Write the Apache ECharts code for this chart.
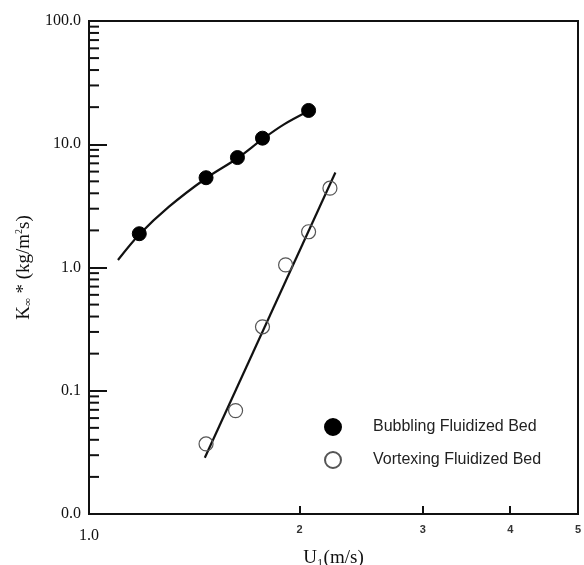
<!DOCTYPE html>
<html>
<head>
<meta charset="utf-8">
<script src="https://cdn.jsdelivr.net/npm/echarts@6/dist/echarts.min.js"></script>
<style>
  html, body { margin: 0; padding: 0; background: #fff; }
  #chart { width: 584px; height: 565px; }
</style>
</head>
<body>
<div id="chart"></div>
<script>
const bubbling = [[1.18, 1.88], [1.47, 5.35], [1.63, 7.8], [1.77, 11.2], [2.06, 18.8]];
const vortexing = [[1.47, 0.037], [1.62, 0.069], [1.77, 0.33], [1.91, 1.05], [2.06, 1.95], [2.21, 4.4]];
// fitted curves
const bubblingFit = [[1.10, 1.15], [1.18, 1.85], [1.30, 3.1], [1.47, 5.3], [1.63, 7.7], [1.77, 11.0], [1.90, 14.5], [2.06, 18.6]];
const vortexingFit = [[1.464, 0.0286], [2.25, 5.9]];
// axis ticks
const xLabels = [1, 2, 3, 4, 5];
const xTicks = [2, 3, 4];
const decades = [0.01, 0.1, 1, 10];
const minorSteps = [2, 3, 4, 5, 6, 7, 8, 9];
const minorTicks = [];
decades.forEach(d => minorSteps.forEach(m => minorTicks.push([1, +(d * m).toPrecision(3)])));

const chart = echarts.init(document.getElementById('chart'));
const serif = 'Liberation Serif';
const sans = 'Liberation Sans';

chart.setOption({
  animation: false,
  backgroundColor: '#fff',
  grid: {
    left: 89, right: 6, top: 21, bottom: 51,
    outerBoundsMode: 'none',
    show: true, borderColor: '#111', borderWidth: 2
  },
  legend: {
    data: ['Bubbling Fluidized Bed', 'Vortexing Fluidized Bed'],
    orient: 'vertical',
    left: 319, top: 413,
    itemWidth: 16, itemHeight: 16, itemGap: 15,
    selectedMode: false,
    textStyle: { fontFamily: sans, fontSize: 16, color: '#222', padding: [0, 0, 0, 27] }
  },
  xAxis: {
    type: 'log', logBase: 10, min: 1, max: 5,
    name: 'U\u2081(m/s)', nameLocation: 'middle', nameGap: 33,
    nameTextStyle: { fontFamily: serif, fontSize: 19, color: '#111' },
    axisLine: { lineStyle: { color: '#111', width: 2 } },
    axisTick: { customValues: xTicks, inside: true, length: 8, lineStyle: { color: '#111', width: 2 } },
    axisLabel: {
      customValues: xLabels, margin: 10,
      formatter: v => v === 1 ? '{a|1.0}' : '{b|' + v + '}',
      rich: {
        a: { fontFamily: serif, fontSize: 16, color: '#111', padding: [4, 0, 0, 0] },
        b: { fontFamily: sans, fontSize: 11, fontWeight: 'bold', color: '#333' }
      }
    },
    splitLine: { show: false }
  },
  yAxis: {
    type: 'log', logBase: 10, min: 0.01, max: 100,
    name: '{k|K}{s|\u221E}{k| * (kg/m}{p|2}{k|s)}',
    nameLocation: 'middle', nameGap: 55, nameRotate: 90,
    nameTextStyle: {
      rich: {
        k: { fontFamily: serif, fontSize: 19, color: '#111' },
        s: { fontFamily: serif, fontSize: 11, color: '#111', padding: [9, 0, 0, 0] },
        p: { fontFamily: serif, fontSize: 10, color: '#111', padding: [0, 0, 9, 0] }
      }
    },
    axisLine: { lineStyle: { color: '#111', width: 2 } },
    axisTick: { inside: true, length: 18, lineStyle: { color: '#111', width: 2 } },
    axisLabel: {
      formatter: v => v.toFixed(1), margin: 8,
      fontFamily: serif, fontSize: 16, color: '#111'
    },
    splitLine: { show: false }
  },
  series: [
    {
      name: 'minorTicks', type: 'custom', silent: true, data: minorTicks,
      renderItem: (params, api) => {
        const p = api.coord([api.value(0), api.value(1)]);
        return {
          type: 'line',
          shape: { x1: p[0], y1: p[1], x2: p[0] + 10, y2: p[1] },
          style: { stroke: '#111', lineWidth: 2 }
        };
      }
    },
    {
      name: 'bubblingFit', type: 'line', data: bubblingFit, smooth: 0.3,
      showSymbol: false, silent: true,
      lineStyle: { color: '#111', width: 2.2 }
    },
    {
      name: 'vortexingFit', type: 'line', data: vortexingFit,
      showSymbol: false, silent: true,
      lineStyle: { color: '#111', width: 2.2 }
    },
    {
      name: 'Bubbling Fluidized Bed', type: 'scatter', data: bubbling,
      symbol: 'circle', symbolSize: 14,
      itemStyle: { color: '#000', borderColor: '#000', borderWidth: 1, opacity: 1 },
      z: 5
    },
    {
      name: 'Vortexing Fluidized Bed', type: 'scatter', data: vortexing,
      symbol: 'circle', symbolSize: 14,
      itemStyle: { color: 'rgba(255,255,255,0)', borderColor: '#555', borderWidth: 1.2, opacity: 1 },
      z: 5
    }
  ]
});
</script>
</body>
</html>
